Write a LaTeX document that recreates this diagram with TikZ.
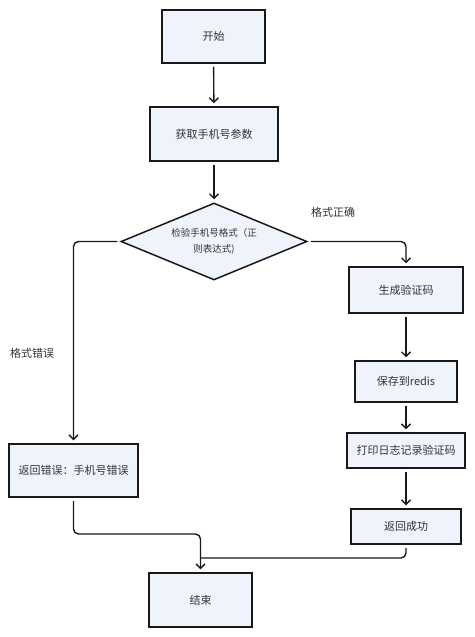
\documentclass[tikz,border=0pt]{standalone}
\usepackage{fontspec}
\newfontfamily\cjk{Noto Sans CJK SC}
\usetikzlibrary{arrows.meta, positioning, shapes}
\definecolor{boxblue}{HTML}{EEF3FC}

\begin{document}
\begin{tikzpicture}[x=1pt, y=-1pt, >={Straight Barb[length=4.5pt,width=9pt]},
      every node/.style = {font=\cjk\fontsize{11}{13}\selectfont, text=black!80},
      stepbox/.style n args = {2}{shape=rectangle, draw=black!90, line width=1.5pt,
        fill=boxblue, minimum width=#1, minimum height=#2},
      checkbox/.style = {shape=diamond, draw=black!90, line width=1.5pt, fill=boxblue,
        minimum width=186, minimum height=77, aspect=2.4, inner sep=0pt, align=center,
        font=\cjk\fontsize{9.5}{16}\selectfont},
      flow/.style = {draw=black!90, line width=1.4pt, rounded corners=5pt,
        shorten <=3pt}]

    \useasboundingbox (0,0) rectangle (474,637);

    % main column
    \node[stepbox={103}{53}] (start) at (213.5,36.5) {开始};
    \node[stepbox={128}{54}] (get) at (214,134) {获取手机号参数};
    \node[checkbox] (check) at (214,241.5) {检验手机号格式（正\\则表达式)};

    % right branch
    \node[stepbox={114}{46}] (gen) at (406,290) {生成验证码};
    \node[stepbox={102}{41}] (save) at (406,381.5) {保存到redis};
    \node[stepbox={118}{35}] (log) at (406,450.5) {打印日志记录验证码};
    \node[stepbox={110}{35}] (ok) at (406,526.5) {返回成功};

    % left branch
    \node[stepbox={129}{53}] (err) at (73.5,470.5) {返回错误：手机号错误};

    \node[stepbox={103}{54}] (finish) at (200.5,600) {结束};

    \node (lblok) at (333,212) {格式正确};
    \node (lblerr) at (32,353) {格式错误};

    \coordinate (m1) at (200.5,534);
    \coordinate (m2) at (200.5,558);

    \draw[flow, ->, shorten >=3pt] (start) -- (get);
    \draw[flow, ->, shorten >=3pt] (get) -- (check);
    \draw[flow, ->, shorten >=3pt] (check.east) -| (gen.north);
    \draw[flow, ->, shorten >=3pt] (check.west) -| (err.north);
    \draw[flow, ->, shorten >=3pt] (gen) -- (save);
    \draw[flow, ->, shorten >=3pt] (save) -- (log);
    \draw[flow, ->, shorten >=3pt] (log) -- (ok);
    \draw[flow, ->, shorten >=3pt] (err.south) |- (m1) -- (finish.north);
    \draw[flow] (ok.south) |- (m2);
\end{tikzpicture}
\end{document}
